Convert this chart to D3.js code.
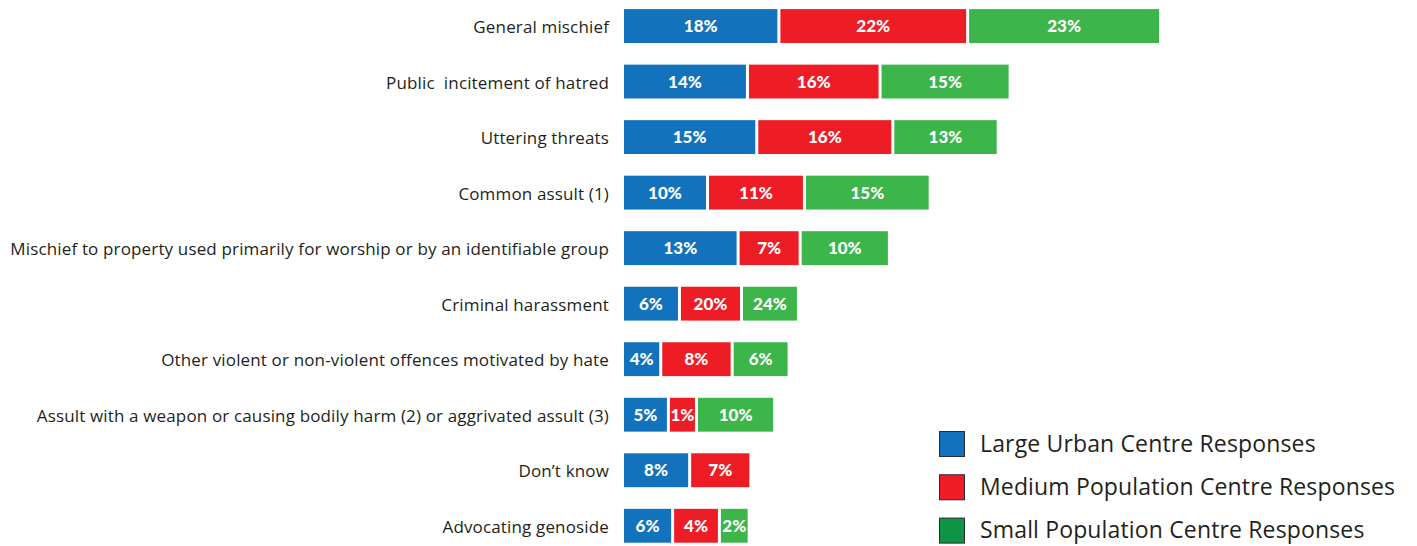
<!DOCTYPE html>
<html>
<head>
<meta charset="utf-8">
<script src="https://cdn.jsdelivr.net/npm/d3@7"></script>
<style>
  body { margin: 0; background: #fff; }
  svg { display: block; }
</style>
</head>
<body>
<div id="chart"></div>
<script>
// categories, top to bottom
var categories = [
    "General mischief",
    "Public  incitement of hatred",
    "Uttering threats",
    "Common assult (1)",
    "Mischief to property used primarily for worship or by an identifiable group",
    "Criminal harassment",
    "Other violent or non-violent offences motivated by hate",
    "Assult with a weapon or causing bodily harm (2) or aggrivated assult (3)",
    "Don\u2019t know",
    "Advocating genoside"
];

var seriesNames = [
    "Large Urban Centre Responses",
    "Medium Population Centre Responses",
    "Small Population Centre Responses"
];

// bar lengths as drawn (in % units)
var largeLen  = [18.4, 14.7, 15.8, 10.0, 13.6, 6.7, 4.5, 5.4, 7.9, 5.9];
var mediumLen = [22.2, 15.6, 16.0, 11.4, 7.3, 7.3, 8.4, 3.3, 7.2, 5.5];
var smallLen  = [22.7, 15.3, 12.4, 14.8, 10.5, 6.7, 6.7, 9.2, 0, 3.5];

// printed labels
var largeLabel  = ["18%", "14%", "15%", "10%", "13%", "6%", "4%", "5%", "8%", "6%"];
var mediumLabel = ["22%", "16%", "16%", "11%", "7%", "20%", "8%", "1%", "7%", "4%"];
var smallLabel  = ["23%", "15%", "13%", "15%", "10%", "24%", "6%", "10%", "", "2%"];

var barColors = ["#1273bc", "#ee1c25", "#3cb54a"],
    legendColors = ["#1172c0", "#ee1c25", "#0f9447"];

var width = 1417,
    height = 546,
    left = 624,
    gap = 3;

var svg = d3.select("#chart")
            .append("svg")
              .attr("width", width)
              .attr("height", height);

var x = d3.scaleLinear()
          .domain([0, 70])
          .range([left, left + 70 * 8.5]);

var y = d3.scaleBand()
          .domain(categories)
          .range([-2, 553.8])
          .paddingInner(0.39)
          .paddingOuter(0.2);

var lens = [largeLen, mediumLen, smallLen],
    labels = [largeLabel, mediumLabel, smallLabel];

// build stacked segments per row
var segments = [];
categories.forEach(function(c, i){
    var cum = 0;
    for (var s = 0; s < 3; s++) {
        var v = lens[s][i];
        if (v > 0) {
            segments.push({cat: c, s: s, x0: cum, x1: cum + v, label: labels[s][i]});
        }
        cum += v;
    }
});

svg.append("g")
    .selectAll("rect")
    .data(segments)
    .enter().append("rect")
      .attr("x", function(d){ return x(d.x0); })
      .attr("y", function(d){ return y(d.cat); })
      .attr("width", function(d){ return x(d.x1) - x(d.x0) - gap; })
      .attr("height", y.bandwidth())
      .style("fill", function(d){ return barColors[d.s]; });

svg.append("g")
    .selectAll("text")
    .data(segments)
    .enter().append("text")
      .attr("x", function(d){ return (x(d.x0) + x(d.x1) - gap) / 2; })
      .attr("y", function(d){ return y(d.cat) + y.bandwidth() / 2; })
      .attr("dy", "0.36em")
      .attr("text-anchor", "middle")
      .style("font", "900 17px Lato")
      .style("fill", "#fff")
      .text(function(d){ return d.label; });

// category labels
svg.append("g")
    .selectAll("text")
    .data(categories)
    .enter().append("text")
      .attr("x", 609)
      .attr("y", function(d){ return y(d) + y.bandwidth() / 2 + 1; })
      .attr("dy", "0.36em")
      .attr("text-anchor", "end")
      .style("font", "17px 'Open Sans'")
      .style("letter-spacing", "0.15px")
      .style("white-space", "pre")
      .style("fill", "#231f20")
      .text(function(d){ return d; });

// legend
var legend = svg.append("g")
    .attr("transform", "translate(939,431)");

var item = legend.selectAll("g")
    .data(seriesNames)
    .enter().append("g")
      .attr("transform", function(d, i){ return "translate(0," + (i * 43.3) + ")"; });

item.append("rect")
    .attr("x", 0.5)
    .attr("y", 0.5)
    .attr("width", 25)
    .attr("height", 25)
    .style("fill", function(d, i){ return legendColors[i]; })
    .style("stroke", "#2b2b2b")
    .style("stroke-width", 1);

item.append("text")
    .attr("x", 41)
    .attr("y", 13)
    .attr("dy", "0.34em")
    .style("font", "23px 'Open Sans'")
    .style("letter-spacing", "0.15px")
    .style("fill", "#231f20")
    .text(function(d){ return d; });
</script>
</body>
</html>
